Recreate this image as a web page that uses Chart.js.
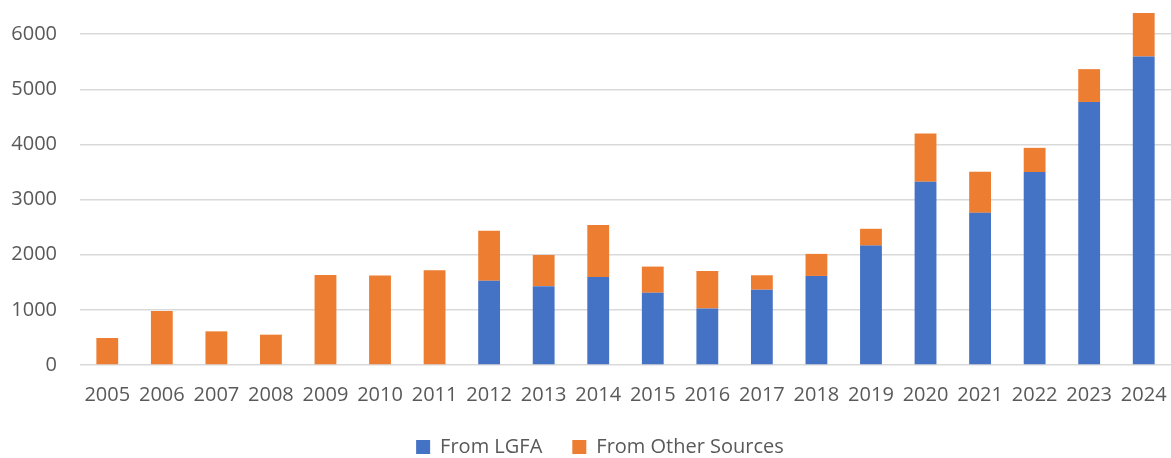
<!DOCTYPE html>
<html>
<head>
<meta charset="utf-8">
<script src="https://cdn.jsdelivr.net/npm/chart.js@4"></script>
<style>
html,body{margin:0;padding:0;background:#fff;}
#wrap{width:1171px;height:458px;position:relative;}
</style>
</head>
<body>
<div id="wrap"><canvas id="c"></canvas></div>
<script>
const categories = ["2005","2006","2007","2008","2009","2010","2011","2012","2013","2014","2015","2016","2017","2018","2019","2020","2021","2022","2023","2024"];
const fromLGFA = [0,0,0,0,0,0,0,1530,1430,1595,1310,1025,1365,1615,2165,3325,2760,3500,4770,5595];
const fromOther = [490,980,610,550,1630,1625,1720,905,565,945,475,680,262,400,305,875,745,438,595,788];
const seriesNames = ["From LGFA","From Other Sources"];
const yTicks = [0,1000,2000,3000,4000,5000,6000];

const FONT = "'Open Sans', 'Liberation Sans', sans-serif";
const legendLayout = {
  id: 'legendLayout',
  beforeInit(chart) {
    const origFit = chart.legend.fit;
    chart.legend.fit = function () {
      origFit.call(this);
      this.height = 51;
    };
  },
  afterLayout(chart) {
    chart.legend.left += 20;
  }
};
new Chart(document.getElementById('c'), {
  type: 'bar',
  data: {
    labels: categories,
    datasets: [
      {label: seriesNames[0], data: fromLGFA, backgroundColor: '#4472C4', barPercentage: 0.4, categoryPercentage: 1.0},
      {label: seriesNames[1], data: fromOther, backgroundColor: '#ED7D31', barPercentage: 0.4, categoryPercentage: 1.0}
    ]
  },
  plugins: [legendLayout],
  options: {
    responsive: true,
    maintainAspectRatio: false,
    animation: false,
    layout: {padding: {left: 9, right: 0, top: 0, bottom: 0}},
    plugins: {
      tooltip: {enabled: false},
      legend: {
        position: 'bottom',
        labels: {
          boxWidth: 14, boxHeight: 14, padding: 30,
          color: '#595959',
          font: {family: FONT, size: 20}
        }
      }
    },
    scales: {
      x: {
        stacked: true,
        grid: {display: false, drawTicks: false},
        border: {display: false},
        afterFit: (s) => { s.height = 42; s.paddingLeft = 0; s.paddingRight = 0; },
        ticks: {color: '#595959', font: {family: FONT, size: 20}, padding: 18, maxRotation: 0, autoSkip: false}
      },
      y: {
        stacked: true,
        min: 0, max: 6619,
        afterBuildTicks: (axis) => { axis.ticks = yTicks.map(v => ({value: v})); },
        afterFit: (s) => { s.width = 71; s.paddingTop = 0; s.paddingBottom = 0; },
        grid: {color: '#d9d9d9', lineWidth: 1.5, drawTicks: false},
        border: {display: false},
        ticks: {color: '#595959', font: {family: FONT, size: 20}, padding: 23, callback: (v) => String(v)}
      }
    }
  }
});
</script>
</body>
</html>
